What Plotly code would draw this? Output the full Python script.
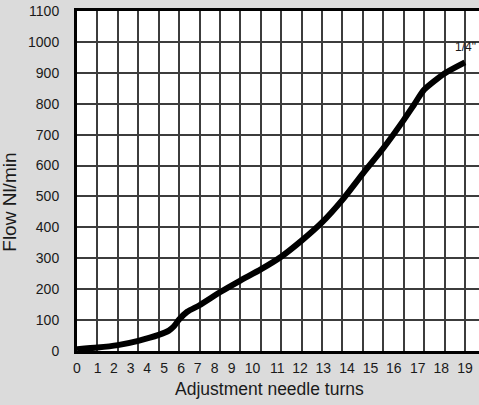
import plotly.graph_objects as go

# --- data ---
turns = [0, 1, 2, 3, 4, 4.5, 4.75, 5, 5.4, 6, 7, 8, 9, 10, 11, 12, 13, 14, 15, 16, 16.5, 17, 18, 19]
flow = [6, 11, 19, 33, 52, 66, 80, 102, 127, 148, 190, 228, 264, 305, 357, 416, 489, 574, 656, 747, 796, 845, 898, 934]

x_tick_text = [str(i) for i in range(20)]
x_tick_at = [0, 1.01, 1.81, 2.63, 3.44, 4.27, 5.1, 5.91, 6.74, 7.58,
             8.6, 9.81, 10.92, 12.06, 13.22, 14.38, 15.52, 16.69, 17.84, 19.0]
x_grid = list(range(20))
y_ticks = list(range(0, 1101, 100))
curve_label = '1/4"'
x_title = "Adjustment needle turns"
y_title = "Flow Nl/min"

FONT = "Liberation Sans, Arial, sans-serif"
TXT = "#1a1a1a"
GRID = "#3c3c3c"

fig = go.Figure()
fig.add_trace(go.Scatter(
    x=turns, y=flow, mode="lines",
    line=dict(color="black", width=6, shape="spline", smoothing=0.6),
    hoverinfo="skip", showlegend=False,
))

fig.add_annotation(x=turns[-1], y=flow[-1], text=curve_label, showarrow=False,
                   xanchor="center", yanchor="bottom", yshift=6, xshift=1,
                   font=dict(family=FONT, size=12, color=TXT))
fig.add_annotation(xref="paper", yref="paper", x=0.48, y=-0.112, text=x_title,
                   showarrow=False, xanchor="center", yanchor="middle",
                   font=dict(family=FONT, size=17.5, color=TXT))
fig.add_annotation(xref="paper", yref="paper", x=-0.1667, y=0.439, text=y_title,
                   showarrow=False, xanchor="center", yanchor="middle", textangle=-90,
                   font=dict(family=FONT, size=19, color=TXT))

fig.update_xaxes(
    range=[0, 19.69], tickmode="array", tickvals=x_tick_at, ticktext=x_tick_text,
    showgrid=False, zeroline=False, ticks="", ticklabelstandoff=2,
    showline=True, linecolor="black", linewidth=3, mirror=True,
    tickfont=dict(family=FONT, size=14, color=TXT),
    minor=dict(tickvals=x_grid, showgrid=True, gridcolor=GRID, gridwidth=1.5, ticks=""),
)
fig.update_yaxes(
    range=[0, 1100], tickmode="array", tickvals=y_ticks,
    showgrid=True, gridcolor=GRID, gridwidth=1.5, zeroline=False, ticks="",
    ticklabelstandoff=12,
    showline=True, linecolor="black", linewidth=3,
    tickfont=dict(family=FONT, size=14, color=TXT),
)
fig.update_layout(
    width=479, height=405,
    margin=dict(l=77, r=0, t=11, b=54),
    paper_bgcolor="#dbdbdb", plot_bgcolor="white",
)
fig.write_html(
    "out.html",
    config={"displayModeBar": False},
    post_script="document.body.style.margin='0';document.body.style.overflow='hidden';",
)
